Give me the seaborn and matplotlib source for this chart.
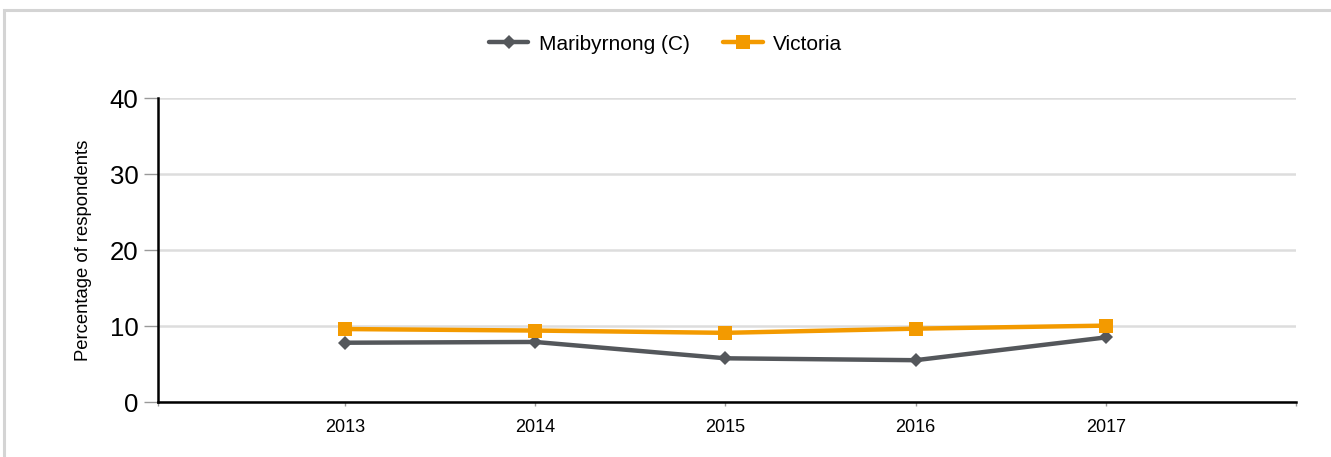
import pandas as pd
import matplotlib.pyplot as plt
import matplotlib.patches as mpatches
import seaborn as sns

# Data
years = [2013, 2014, 2015, 2016, 2017]
maribyrnong = [7.8, 7.9, 5.75, 5.5, 8.5]
victoria = [9.6, 9.4, 9.1, 9.65, 10.05]
series_names = ['Maribyrnong (C)', 'Victoria']

df = pd.DataFrame({
    'year': years * 2,
    'value': maribyrnong + victoria,
    'series': [series_names[0]] * len(years) + [series_names[1]] * len(years),
})

sns.set_style('white')
plt.rcParams['font.family'] = ['Liberation Sans', 'DejaVu Sans']
plt.rcParams['text.color'] = 'black'
plt.rcParams['xtick.color'] = 'black'
plt.rcParams['ytick.color'] = 'black'
plt.rcParams['axes.labelcolor'] = 'black'

W, H = 1331, 457
fig = plt.figure(figsize=(W / 100, H / 100), dpi=100)
ax = fig.add_axes([158 / W, 1 - 402 / H, (1296 - 158) / W, (402 - 98) / H])

# light frame around the chart
fig.patches.append(mpatches.Rectangle((3.5 / W, -0.05), 1.1, 1 - 10 / H + 0.05,
                                      transform=fig.transFigure, fill=False,
                                      edgecolor='#d4d4d4', linewidth=2.2))

palette = {series_names[0]: '#54575b', series_names[1]: '#f39a00'}
sns.lineplot(data=df, x='year', y='value', hue='series', style='series',
             markers={series_names[0]: 'D', series_names[1]: 's'}, dashes=False,
             palette=palette, linewidth=3.2, markeredgewidth=0, ax=ax, legend=True)
for line in ax.lines:
    if line.get_marker() == 'D':
        line.set_markersize(7)
    else:
        line.set_markersize(10)

ax.set_xlim(2012.017, 2018)
ax.set_ylim(0, 40)
ax.set_yticks([0, 10, 20, 30, 40])
ax.set_xticks([2012.017] + years + [2018])
ax.set_xticklabels([''] + [str(y) for y in years] + [''], fontsize=13)
ax.tick_params(axis='y', labelsize=18.5, length=10, color='#999999', width=1, pad=4, left=True,
               labelcolor='black')
ax.tick_params(axis='x', length=3, color='#999999', width=1, pad=9, bottom=True,
               labelcolor='black')
ax.yaxis.grid(True, color='#dddddd', linewidth=1.8)
ax.set_axisbelow(True)
for s in ['top', 'right']:
    ax.spines[s].set_visible(False)
for s in ['left', 'bottom']:
    ax.spines[s].set_color('black')
    ax.spines[s].set_linewidth(1.8)

ax.set_xlabel('')
ax.set_ylabel('Percentage of respondents', fontsize=13.3, labelpad=13, color='black')

handles, labels = ax.get_legend_handles_labels()
leg = fig.legend(handles, labels, loc='center', bbox_to_anchor=(0.5, 1 - 44 / H),
                 ncol=2, frameon=False, fontsize=15, handlelength=1.9,
                 columnspacing=1.6, handletextpad=0.5)
for t in leg.get_texts():
    t.set_color('black')
if ax.get_legend():
    ax.get_legend().remove()

fig.savefig('out.png', dpi=100)
